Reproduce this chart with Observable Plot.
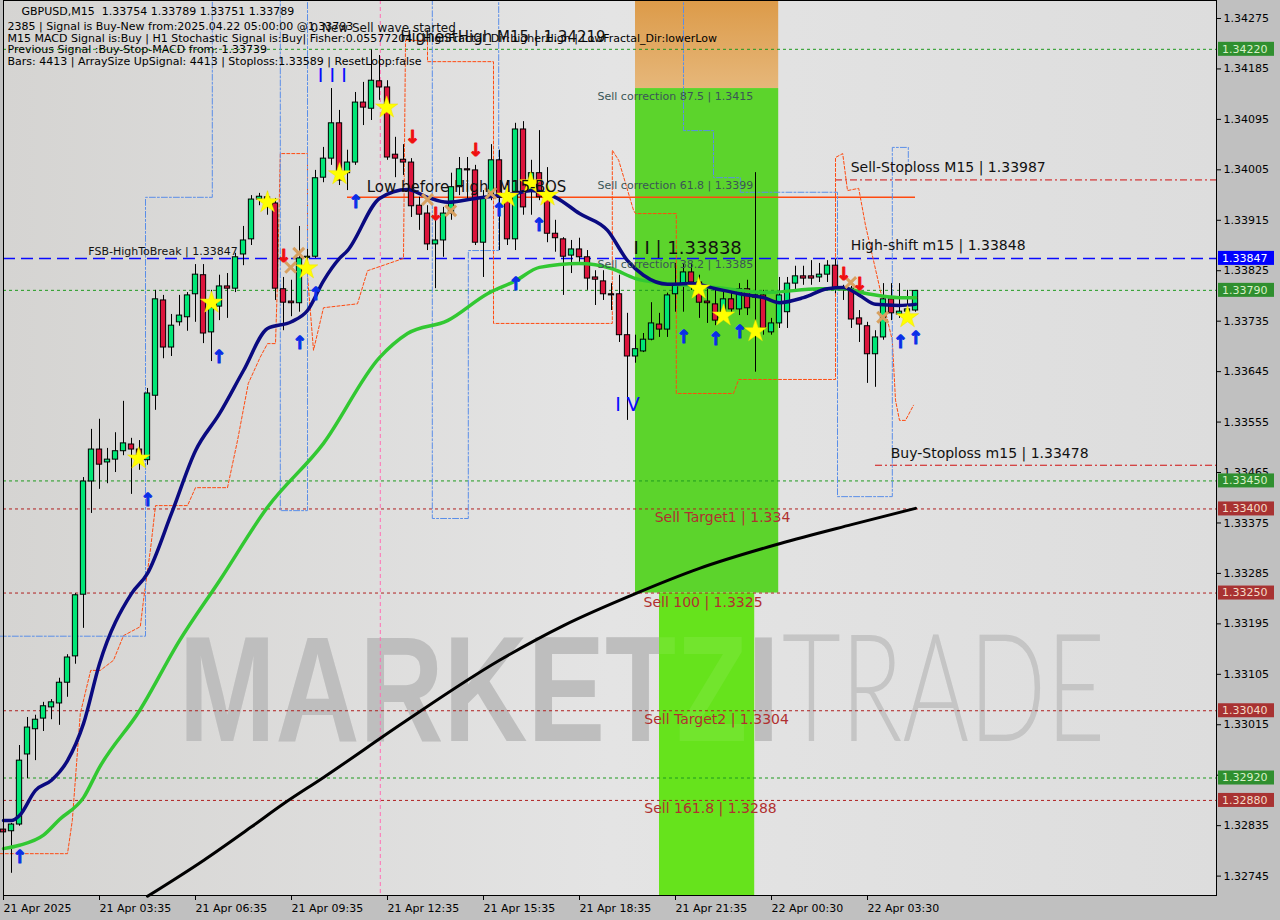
<!DOCTYPE html>
<html><head><meta charset="utf-8">
<script src="https://cdn.jsdelivr.net/npm/d3@7"></script>
<script src="https://cdn.jsdelivr.net/npm/@observablehq/plot@0.6"></script>
<style>body{margin:0;background:#c0c0c0;overflow:hidden}#chart{width:1280px;height:920px}</style>
</head><body><div id="chart"></div>
<script>
// ---------- candle data (GBPUSD M15) ----------
const opens = [1.32828,1.32825,1.32837,1.32962,1.33007,1.33026,1.33046,1.33053,1.33090,1.33137,
1.33247,1.33449,1.33506,1.33483,1.33488,1.33503,1.33515,1.33506,1.33487,1.33602,
1.33772,1.33688,1.33733,1.33742,1.33783,1.33817,1.33715,1.33761,1.33797,1.33793,
1.33854,1.33881,1.33952,1.33956,1.33945,1.33792,1.33770,1.33767,1.33848,1.33850,
1.33991,1.34025,1.34088,1.33999,1.34018,1.34125,1.34114,1.34163,1.34152,1.34032,
1.34023,1.34018,1.33941,1.33927,1.33872,1.33879,1.33927,1.33974,1.34006,1.34004,
1.33875,1.33956,1.34022,1.33955,1.33881,1.34077,1.33968,1.33999,1.33956,1.33891,
1.33881,1.33852,1.33863,1.33849,1.33813,1.33806,1.33783,1.33783,1.33710,1.33672,
1.33681,1.33702,1.33729,1.33720,1.33783,1.33799,1.33822,1.33804,1.33770,1.33765,
1.33751,1.33774,1.33756,1.33792,1.33777,1.33781,1.33715,1.33731,1.33751,1.33802,
1.33815,1.33815,1.33813,1.33818,1.33834,1.33793,1.33793,1.33740,1.33726,1.33676,
1.33706,1.33774,1.33747,1.33752,1.33754];
const highs = [1.32833,1.32839,1.32978,1.33028,1.33032,1.33055,1.33060,1.33098,1.33140,1.33249,
1.33456,1.33542,1.33560,1.33508,1.33536,1.33592,1.33526,1.33522,1.33615,1.33790,
1.33781,1.33747,1.33781,1.33786,1.33836,1.33836,1.33790,1.33817,1.33820,1.33856,
1.33904,1.33959,1.33963,1.33965,1.33954,1.33813,1.33808,1.33904,1.33863,1.34004,
1.34045,1.34150,1.34111,1.34040,1.34143,1.34161,1.34219,1.34209,1.34164,1.34063,
1.34050,1.34025,1.33956,1.33941,1.33927,1.33938,1.33999,1.34027,1.34027,1.34013,
1.33968,1.34050,1.34040,1.33986,1.34088,1.34091,1.34022,1.34075,1.34009,1.33915,
1.33884,1.33879,1.33883,1.33861,1.33825,1.33825,1.33802,1.33817,1.33749,1.33710,
1.33713,1.33768,1.33749,1.33785,1.33838,1.33838,1.33838,1.33817,1.33793,1.33793,
1.33793,1.33793,1.33802,1.33808,1.34000,1.33790,1.33740,1.33813,1.33813,1.33833,
1.33833,1.33843,1.33838,1.33843,1.33845,1.33799,1.33797,1.33754,1.33733,1.33718,
1.33802,1.33802,1.33802,1.33790,1.33789];
const lows = [1.32805,1.32750,1.32834,1.32919,1.32951,1.33003,1.33024,1.33014,1.33064,1.33123,
1.33187,1.33392,1.33435,1.33445,1.33465,1.33495,1.33426,1.33469,1.33478,1.33576,
1.33668,1.33672,1.33726,1.33717,1.33733,1.33695,1.33663,1.33736,1.33740,1.33786,
1.33834,1.33870,1.33941,1.33924,1.33772,1.33718,1.33743,1.33751,1.33834,1.33847,
1.33982,1.34013,1.33977,1.33968,1.34013,1.34084,1.34093,1.34129,1.34022,1.33991,
1.33995,1.33920,1.33897,1.33861,1.33793,1.33849,1.33915,1.33959,1.33950,1.33870,
1.33813,1.33950,1.33861,1.33870,1.33861,1.33924,1.33924,1.33950,1.33875,1.33858,
1.33781,1.33820,1.33840,1.33790,1.33763,1.33772,1.33754,1.33697,1.33558,1.33660,
1.33679,1.33700,1.33706,1.33706,1.33751,1.33751,1.33790,1.33740,1.33731,1.33727,
1.33740,1.33751,1.33745,1.33745,1.33644,1.33710,1.33710,1.33722,1.33722,1.33790,
1.33799,1.33799,1.33804,1.33804,1.33784,1.33772,1.33722,1.33697,1.33624,1.33617,
1.33701,1.33736,1.33740,1.33740,1.33751];
const closes = [1.32823,1.32837,1.32951,1.33010,1.33024,1.33048,1.33055,1.33090,1.33135,1.33246,
1.33449,1.33506,1.33479,1.33488,1.33503,1.33517,1.33506,1.33495,1.33606,1.33774,
1.33688,1.33727,1.33745,1.33781,1.33818,1.33713,1.33759,1.33797,1.33793,1.33849,
1.33879,1.33952,1.33957,1.33950,1.33793,1.33768,1.33767,1.33847,1.33850,1.33990,
1.34025,1.34088,1.33986,1.34018,1.34125,1.34116,1.34164,1.34152,1.34027,1.34025,
1.34018,1.33940,1.33925,1.33872,1.33879,1.33927,1.33974,1.34006,1.34004,1.33875,
1.33956,1.34022,1.33955,1.33881,1.34077,1.33938,1.33999,1.33956,1.33891,1.33883,
1.33850,1.33863,1.33849,1.33811,1.33809,1.33783,1.33781,1.33710,1.33672,1.33685,
1.33702,1.33731,1.33720,1.33781,1.33800,1.33822,1.33804,1.33768,1.33767,1.33736,
1.33774,1.33756,1.33792,1.33758,1.33781,1.33722,1.33731,1.33781,1.33802,1.33815,
1.33811,1.33811,1.33818,1.33834,1.33793,1.33790,1.33738,1.33729,1.33676,1.33706,
1.33774,1.33749,1.33752,1.33756,1.33789];

// ---------- moving averages ----------
const maFastBar = [0,1,2,4,6,8,10,12,16,18,21,24,27,30,33,36,38,40,42,43,47,50.5,53,55.5,59,64,66,69,72,75.5,78,80,83,86,89,92,95,97,100,103,105,107,109,112,114];
const maFastVal = [1.32844,1.32844,1.32853,1.32898,1.32916,1.32951,1.33017,1.33124,1.33249,1.33285,1.33392,1.33504,1.33570,1.33647,1.33722,1.33734,1.33754,1.33807,1.33847,1.33861,1.33954,1.33970,1.33956,1.33947,1.33954,1.33963,1.33968,1.33956,1.33927,1.33897,1.33843,1.33817,1.33801,1.33802,1.33793,1.33784,1.33777,1.33768,1.33777,1.33793,1.33795,1.33781,1.33765,1.33763,1.33765];
const maMidBar = [0,2,5,7,10,12,17,22,27,33,40,47,50.5,55.5,60.5,64,67,72,76,79,83,89,95.5,102,105,108,112,114];
const maMidVal = [1.32794,1.32800,1.32818,1.32846,1.32885,1.32939,1.33040,1.33165,1.33272,1.33403,1.33517,1.33670,1.33713,1.33736,1.33784,1.33807,1.33831,1.33838,1.33829,1.33811,1.33802,1.33795,1.33786,1.33793,1.33793,1.33784,1.33777,1.33777];
const maSlowBar = [18,25,31,35,40,50,62,70,79,87,97,106,114];
const maSlowVal = [1.32709,1.32773,1.32833,1.32874,1.32921,1.33019,1.33130,1.33192,1.33249,1.33294,1.33338,1.33372,1.33401];

// ---------- channel step lines ----------
const orangeBar = [-0.4,8,8.6,9.6,10.9,12.1,13.75,15,17.1,17.5,18.4,19,23,24,28,29.25,30.6,32.1,33,34,34.25,34.6,38,38,38.75,40,44.25,45.5,50,50.25,53,53,61.25,61.25,76.1,76.1,76.9,78.75,79,84.1,84.1,91.25,91.9,104,104,104.9,105.5,106.9,107.75,109.6,111.1,111.5,112,112.75,113.75];
const orangeVal = [1.32785,1.32785,1.32844,1.33035,1.33112,1.33112,1.33130,1.33174,1.33190,1.33237,1.33331,1.33406,1.33406,1.33438,1.33438,1.33522,1.33624,1.33671,1.33695,1.33695,1.33807,1.34034,1.34034,1.33816,1.33683,1.33759,1.33766,1.33825,1.33847,1.34236,1.34236,1.34198,1.34198,1.33731,1.33731,1.34040,1.34022,1.33933,1.33927,1.33927,1.33606,1.33606,1.33631,1.33631,1.34027,1.34034,1.33968,1.33972,1.33906,1.33790,1.33701,1.33594,1.33558,1.33558,1.33585];
const blueBar = [-0.4,17.75,17.75,26.1,26.1,34.6,34.6,38,38,53.6,53.6,58.1,58.1,61.9,61.9,85,85,88.75,88.75,92.1,92.1,104.25,104.25,111.1,111.1,113.1,113.1];
const blueVal = [1.33173,1.33173,1.33956,1.33956,1.34340,1.34340,1.33397,1.33397,1.34340,1.34340,1.33383,1.33383,1.33861,1.33861,1.34340,1.34340,1.34075,1.34075,1.33991,1.33991,1.33965,1.33965,1.33422,1.33422,1.34045,1.34045,1.34013];

// ---------- levels ----------
const greenLevels = [1.34220, 1.33790, 1.33450, 1.32920];
const redLevels = [1.33400, 1.33250, 1.33040, 1.32880];
const blueLevel = [1.33847];
const axisBoxes = [
  {v:1.34220, bg:"#2f8f2f", fg:"#d8f0c8"},
  {v:1.33847, bg:"#0000ff", fg:"#ffffff"},
  {v:1.33790, bg:"#2f8f2f", fg:"#d8f0c8"},
  {v:1.33450, bg:"#2f8f2f", fg:"#d8f0c8"},
  {v:1.33400, bg:"#a83232", fg:"#f4dcc8"},
  {v:1.33250, bg:"#a83232", fg:"#f4dcc8"},
  {v:1.33040, bg:"#a83232", fg:"#f4dcc8"},
  {v:1.32920, bg:"#2f8f2f", fg:"#d8f0c8"},
  {v:1.32880, bg:"#a83232", fg:"#f4dcc8"}
];
const yTicks = [1.34275,1.34185,1.34095,1.34005,1.33915,1.33825,1.33735,1.33645,1.33555,1.33465,1.33375,1.33285,1.33195,1.33105,1.33015,1.32925,1.32835,1.32745];
const tickBars = [0,12,24,36,48,60,72,84,96,108];
const tickLabels = ["21 Apr 2025","21 Apr 03:35","21 Apr 06:35","21 Apr 09:35","21 Apr 12:35","21 Apr 15:35","21 Apr 18:35","21 Apr 21:35","22 Apr 00:30","22 Apr 03:30"];

// ---------- signals ----------
const starBar = [16.9,26,33,37.9,42,47.9,63,65.9,68,86.9,90,94,113];
const starVal = [1.33490,1.33768,1.33947,1.33829,1.33997,1.34116,1.33957,1.33981,1.33959,1.33793,1.33745,1.33717,1.33742];
const crossBar = [36.9,35.9,53,55.9,60.9,105.9,109.9];
const crossVal = [1.33856,1.33831,1.33952,1.33932,1.33963,1.33804,1.33742];
const upBar = [2,18,26.9,37,39,44,61.9,64,66.9,85,89,92,112.1,114];
const upVal = [1.32791,1.33428,1.33683,1.33708,1.33795,1.33959,1.33945,1.33813,1.33918,1.33718,1.33715,1.33727,1.33710,1.33717];
const downBar = [35,51.1,54,59,105,107];
const downVal = [1.33863,1.34075,1.33938,1.34052,1.33831,1.33813];

// ---------- text labels ----------
const blackLabels = [
  {t:"FSB-HighToBreak | 1.33847", x:10.6, y:1.33859, s:11},
  {t:"Low before High  M15-BOS", x:45.4, y:1.33974, s:15},
  {t:"I I | 1.33838", x:78.75, y:1.33866, s:18},
  {t:"Sell-Stoploss M15 | 1.33987", x:105.9, y:1.34009, s:14},
  {t:"High-shift m15 | 1.33848", x:105.9, y:1.33870, s:14},
  {t:"Buy-Stoploss m15 | 1.33478", x:110.9, y:1.33499, s:14},
  {t:"HighestHigh M15 | 1.34219", x:49.6, y:1.34241, s:15}
];
const corrLabels = [
  {t:"Sell correction 87.5 | 1.3415", x:74.25, y:1.34136},
  {t:"Sell correction 61.8 | 1.3399", x:74.25, y:1.33977},
  {t:"Sell correction 38.2 | 1.3385", x:74.25, y:1.33836}
];
const targetLabels = [
  {t:"Sell Target1 | 1.334", x:81.4, y:1.33385},
  {t:"Sell 100 | 1.3325", x:80, y:1.33233},
  {t:"Sell Target2 | 1.3304", x:80.1, y:1.33024},
  {t:"Sell 161.8 | 1.3288", x:80.1, y:1.32866}
];
const waveLabels = [{t:"I I I", x:41.1, y:1.34173},{t:"I V", x:78, y:1.33586}];
const header1 = "GBPUSD,M15  1.33754 1.33789 1.33751 1.33789";
const headerRest = [
  "2385 | Signal is Buy-New from:2025.04.22 05:00:00 @1.33793",
  "M15 MACD Signal is:Buy | H1 Stochastic Signal is:Buy| Fisher:0.05577204 | HighFractal_Dir:higherHigh | LowFractal_Dir:lowerLow",
  "Previous Signal :Buy-Stop-MACD from: 1.33739",
  "Bars: 4413 | ArraySize UpSignal: 4413 | Stoploss:1.33589 | ResetLoop:false"
];

// ---------- zones ----------
const zoneGreen = {x1:79, x2:96.9, y1:1.3325, y2:1.3415};
const zoneOrange = {x1:79, x2:96.9, y1:1.3415, y2:1.3431};
const zoneLower = {x1:82, x2:93.9, y1:1.3271, y2:1.3325};

const bars = opens.map((o,i)=>({i,o,h:highs[i],l:lows[i],c:closes[i],up:closes[i]>=o}));
const pts = (bx,vy)=>bx.map((b,i)=>({b, v:vy[i]}));

const defs = () => {
  const d = d3.create("svg:defs");
  const g1 = d.append("linearGradient").attr("id","bgGrad").attr("x1","0").attr("x2","1").attr("y1","0").attr("y2","0");
  g1.append("stop").attr("offset","0").attr("stop-color","#d5d4d2");
  g1.append("stop").attr("offset","0.5").attr("stop-color","#e4e4e4");
  g1.append("stop").attr("offset","1").attr("stop-color","#dddddd");
  const g2 = d.append("linearGradient").attr("id","orGrad").attr("x1","0").attr("x2","0").attr("y1","0").attr("y2","1");
  g2.append("stop").attr("offset","0").attr("stop-color","#dc9a48");
  g2.append("stop").attr("offset","1").attr("stop-color","#e6b77a");
  return d.node();
};

const wmMain = {fontSize: 150, fontWeight: 900, fontFamily: "'Liberation Sans', Arial, sans-serif", textAnchor: "start", lineAnchor: "middle"};
const wmThin = {fontSize: 150, fontWeight: 300, fontFamily: "Lato, 'Liberation Sans', sans-serif", textAnchor: "start", lineAnchor: "middle"};

const plot = Plot.plot({
  width: 1280, height: 920,
  marginLeft: 3, marginRight: 64, marginTop: 0, marginBottom: 25,
  x: {domain: [0, 151.625], axis: null},
  y: {domain: [1.327104, 1.343071], axis: null},
  style: {fontFamily: "'DejaVu Sans', sans-serif", fontSize: "11px", background: "#c0c0c0", color: "#000"},
  marks: [
    defs,
    Plot.frame({fill: "url(#bgGrad)", stroke: null}),
    Plot.text(["MARKETZI"], {x: 21.9, y: 1.33071, text: d=>d, ...wmMain, fill: "#b9b9b9"}),
    Plot.text(["TRADE"], {x: 97.3, y: 1.33071, text: d=>d, ...wmThin, fill: "#c0c0c0"}),
    Plot.rect([zoneOrange], {x1:"x1", x2:"x2", y1:"y1", y2:"y2", fill: "url(#orGrad)"}),
    Plot.rect([zoneGreen], {x1:"x1", x2:"x2", y1:"y1", y2:"y2", fill: "#5cd42c"}),
    Plot.rect([zoneLower], {x1:"x1", x2:"x2", y1:"y1", y2:"y2", fill: "#66e31c"}),
    Plot.text(["MARKETZI"], {x: 21.9, y: 1.33071, text: d=>d, ...wmMain, fill: "#ffffff", fillOpacity: 0.08}),
    Plot.text(["TRADE"], {x: 97.3, y: 1.33071, text: d=>d, ...wmThin, fill: "#ffffff", fillOpacity: 0.08}),
    Plot.ruleX([47.1], {stroke: "#ff6eb4", strokeDasharray: "4,3", strokeWidth: 1}),
    Plot.ruleY(greenLevels, {stroke: "#1f9a1f", strokeDasharray: "3,3", strokeWidth: 1}),
    Plot.ruleY(redLevels, {stroke: "#b02020", strokeDasharray: "3,3", strokeWidth: 1}),
    Plot.ruleY(blueLevel, {stroke: "#0a0aff", strokeDasharray: "12,6", strokeWidth: 1.5}),
    Plot.ruleY([1.33987], {x1: 104, x2: 151.625, stroke: "#d01010", strokeDasharray: "7,3,2,3", strokeWidth: 1}),
    Plot.ruleY([1.33478], {x1: 109, x2: 151.625, stroke: "#d01010", strokeDasharray: "7,3,2,3", strokeWidth: 1}),
    Plot.ruleY([1.33956], {x1: 43, x2: 114, stroke: "#ff4a10", strokeWidth: 1.5}),
    Plot.line(pts(orangeBar, orangeVal), {x:"b", y:"v", stroke: "#ff4a10", strokeWidth: 1, strokeDasharray: "3,2"}),
    Plot.line(pts(blueBar, blueVal), {x:"b", y:"v", stroke: "#5a8ee8", strokeWidth: 1, strokeDasharray: "6,2,2,2"}),
    Plot.line(pts(maSlowBar, maSlowVal), {x:"b", y:"v", stroke: "#000000", strokeWidth: 3, curve: "monotone-x"}),
    Plot.ruleX(bars, {x: "i", y1: "l", y2: "h", stroke: "#000", strokeWidth: 1}),
    Plot.rect(bars, {x1: d=>d.i-0.33, x2: d=>d.i+0.33, y1: "o", y2: "c", fill: d=>d.up ? "#00e676" : "#dc143c", stroke: "#000", strokeWidth: 1}),
    Plot.line(pts(maMidBar, maMidVal), {x:"b", y:"v", stroke: "#32c832", strokeWidth: 3.5, curve: "monotone-x"}),
    Plot.line(pts(maFastBar, maFastVal), {x:"b", y:"v", stroke: "#0a0a80", strokeWidth: 3.5, curve: "monotone-x"}),
    Plot.dot(pts(crossBar, crossVal), {x:"b", y:"v", symbol: "times", r: 5, stroke: "#d8a060", strokeWidth: 3}),
    Plot.dot(pts(starBar, starVal), {x:"b", y:"v", symbol: "star", r: 7, fill: "#ffff00", stroke: "#f0e000", strokeWidth: 0.5}),
    Plot.text(pts(upBar, upVal), {x:"b", y:"v", text: ()=>"↑", lineAnchor: "top", fontSize: 18, fontWeight: "bold", fill: "#0a2ee8", stroke: "#0a2ee8", strokeWidth: 1}),
    Plot.text(pts(downBar, downVal), {x:"b", y:"v", text: ()=>"↓", lineAnchor: "top", fontSize: 18, fontWeight: "bold", fill: "#f01010", stroke: "#f01010", strokeWidth: 1}),
    Plot.text(waveLabels, {x:"x", y:"y", text:"t", fontSize: 19, fill: "#0a0aff", textAnchor: "middle", lineAnchor: "middle"}),
    Plot.text(corrLabels, {x:"x", y:"y", text:"t", fontSize: 11, fill: "#3a5656", textAnchor: "start", lineAnchor: "middle"}),
    Plot.text(targetLabels, {x:"x", y:"y", text:"t", fontSize: 14, fill: "#b03030", textAnchor: "start", lineAnchor: "middle"}),
    Plot.text(blackLabels, {x:"x", y:"y", text:"t", fontSize: d=>d.s, fill: "#111", textAnchor: "start", lineAnchor: "middle"}),
    Plot.text([header1], {text: d=>d, frameAnchor: "top-left", dx: 18, dy: 7, fontSize: 11, fill: "#000", textAnchor: "start"}),
    Plot.text([headerRest.join("\n")], {text: d=>d, frameAnchor: "top-left", dx: 4, dy: 21, fontSize: 11, lineHeight: 1.07, fill: "#000", textAnchor: "start"}),
    Plot.text(["0 New Sell wave started"], {text: d=>d, frameAnchor: "top-left", dx: 307, dy: 23, fontSize: 12, fill: "#111", textAnchor: "start"}),
    Plot.axisY(yTicks, {anchor: "right", tickFormat: d=>d.toFixed(5), tickSize: 4, tickPadding: 3, fontSize: 11}),
    Plot.axisX(tickBars, {anchor: "bottom", tickFormat: d=>tickLabels[tickBars.indexOf(d)], textAnchor: "start", tickSize: 5, tickPadding: 4, fontSize: 11}),
    Plot.frame({stroke: "#000", strokeWidth: 1})
  ]
});
document.getElementById("chart").appendChild(plot);

// watermark text stretched to the chart's lettering width
const xs = plot.scale("x"), ys = plot.scale("y");
d3.select(plot).selectAll("text").each(function(){
  const t = this.textContent;
  if (t === "MARKETZI") d3.select(this).attr("textLength", xs.apply(97) - xs.apply(21.9)).attr("lengthAdjust","spacingAndGlyphs");
  if (t === "TRADE") d3.select(this).attr("textLength", xs.apply(137.7) - xs.apply(97.3)).attr("lengthAdjust","spacingAndGlyphs");
});
// price boxes on the right axis
const svg = d3.select(plot);
const right = xs.apply(151.625);
const g = svg.append("g").attr("text-anchor", "start");
axisBoxes.forEach(b => {
  const yy = ys.apply(b.v);
  g.append("rect").attr("x", right + 2).attr("y", yy - 7).attr("width", 56).attr("height", 14).attr("fill", b.bg);
  g.append("text").attr("x", right + 6).attr("y", yy).attr("dy", "0.36em").attr("font-size", 11).attr("fill", b.fg).text(b.v.toFixed(5));
});
</script>
</body></html>
